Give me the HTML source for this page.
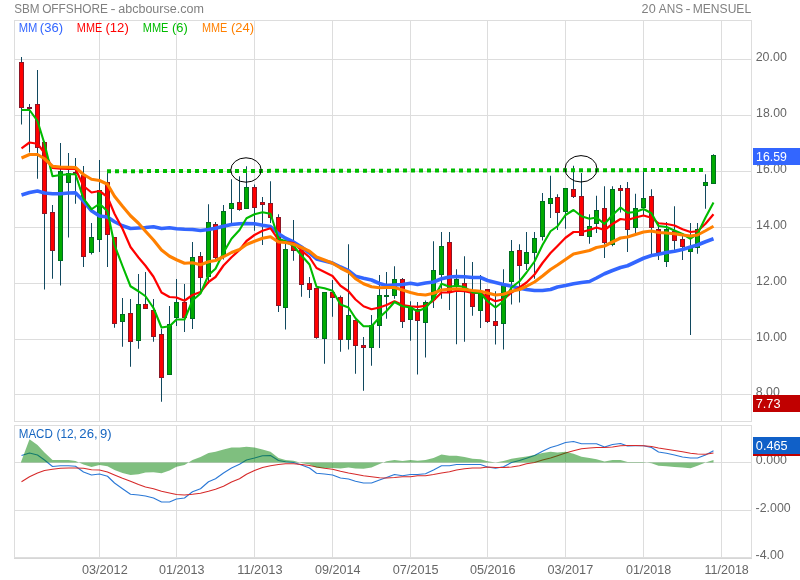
<!DOCTYPE html>
<html lang="fr"><head><meta charset="utf-8"><title>SBM OFFSHORE - abcbourse.com</title>
<style>html,body{margin:0;padding:0;background:#fff;}body{width:800px;height:580px;overflow:hidden;}svg{display:block;}text{font-family:"Liberation Sans", Arial, sans-serif;font-size:12px;}</style></head><body>
<svg width="800" height="580" viewBox="0 0 800 580">
<rect x="0" y="0" width="800" height="580" fill="#fff"/>
<g stroke="#dddddd" stroke-width="1" fill="none" shape-rendering="crispEdges">
<rect x="14.5" y="20.5" width="737" height="401"/>
<line x1="15" x2="751" y1="59.5" y2="59.5"/>
<line x1="15" x2="751" y1="115.5" y2="115.5"/>
<line x1="15" x2="751" y1="171.5" y2="171.5"/>
<line x1="15" x2="751" y1="227.5" y2="227.5"/>
<line x1="15" x2="751" y1="283.5" y2="283.5"/>
<line x1="15" x2="751" y1="339.5" y2="339.5"/>
<line x1="15" x2="751" y1="394.5" y2="394.5"/>
<line x1="99.5" x2="99.5" y1="21" y2="421"/>
<line x1="176.5" x2="176.5" y1="21" y2="421"/>
<line x1="254.5" x2="254.5" y1="21" y2="421"/>
<line x1="332.5" x2="332.5" y1="21" y2="421"/>
<line x1="410.5" x2="410.5" y1="21" y2="421"/>
<line x1="487.5" x2="487.5" y1="21" y2="421"/>
<line x1="565.5" x2="565.5" y1="21" y2="421"/>
<line x1="643.5" x2="643.5" y1="21" y2="421"/>
<line x1="721.5" x2="721.5" y1="21" y2="421"/>
<rect x="14.5" y="425.5" width="737" height="132"/>
<line x1="15" x2="751" y1="462.5" y2="462.5"/>
<line x1="15" x2="751" y1="510.5" y2="510.5"/>
<line x1="99.5" x2="99.5" y1="426" y2="557"/>
<line x1="176.5" x2="176.5" y1="426" y2="557"/>
<line x1="254.5" x2="254.5" y1="426" y2="557"/>
<line x1="332.5" x2="332.5" y1="426" y2="557"/>
<line x1="410.5" x2="410.5" y1="426" y2="557"/>
<line x1="487.5" x2="487.5" y1="426" y2="557"/>
<line x1="565.5" x2="565.5" y1="426" y2="557"/>
<line x1="643.5" x2="643.5" y1="426" y2="557"/>
<line x1="721.5" x2="721.5" y1="426" y2="557"/>
<line x1="14" x2="752" y1="558" y2="558" stroke="#d6d6d6"/>
</g>
<text y="61" fill="#666666"><tspan x="755.65" textLength="31.20" lengthAdjust="spacingAndGlyphs">20.00</tspan></text>
<text y="117" fill="#666666"><tspan x="756.10" textLength="30.74" lengthAdjust="spacingAndGlyphs">18.00</tspan></text>
<text y="173" fill="#666666"><tspan x="756.10" textLength="30.74" lengthAdjust="spacingAndGlyphs">16.00</tspan></text>
<text y="229" fill="#666666"><tspan x="756.10" textLength="30.74" lengthAdjust="spacingAndGlyphs">14.00</tspan></text>
<text y="285" fill="#666666"><tspan x="756.10" textLength="30.74" lengthAdjust="spacingAndGlyphs">12.00</tspan></text>
<text y="341" fill="#666666"><tspan x="756.10" textLength="30.74" lengthAdjust="spacingAndGlyphs">10.00</tspan></text>
<text y="396" fill="#666666"><tspan x="755.78" textLength="24.12" lengthAdjust="spacingAndGlyphs">8.00</tspan></text>
<text y="464" fill="#666666"><tspan x="755.88" textLength="31.07" lengthAdjust="spacingAndGlyphs">0.000</tspan></text>
<text y="512" fill="#666666"><tspan x="755.58" textLength="35.06" lengthAdjust="spacingAndGlyphs">-2.000</tspan></text>
<text y="559" fill="#666666"><tspan x="755.58" textLength="28.22" lengthAdjust="spacingAndGlyphs">-4.00</tspan></text>
<text y="574" fill="#666666"><tspan x="81.97" textLength="45.70" lengthAdjust="spacingAndGlyphs">03/2012</tspan></text>
<text y="574" fill="#666666"><tspan x="158.98" textLength="45.46" lengthAdjust="spacingAndGlyphs">01/2013</tspan></text>
<text y="574" fill="#666666"><tspan x="237.32" textLength="45.21" lengthAdjust="spacingAndGlyphs">11/2013</tspan></text>
<text y="574" fill="#666666"><tspan x="314.98" textLength="45.43" lengthAdjust="spacingAndGlyphs">09/2014</tspan></text>
<text y="574" fill="#666666"><tspan x="392.72" textLength="45.82" lengthAdjust="spacingAndGlyphs">07/2015</tspan></text>
<text y="574" fill="#666666"><tspan x="469.97" textLength="45.57" lengthAdjust="spacingAndGlyphs">05/2016</tspan></text>
<text y="574" fill="#666666"><tspan x="547.47" textLength="45.70" lengthAdjust="spacingAndGlyphs">03/2017</tspan></text>
<text y="574" fill="#666666"><tspan x="625.98" textLength="45.16" lengthAdjust="spacingAndGlyphs">01/2018</tspan></text>
<text y="574" fill="#666666"><tspan x="704.59" textLength="44.23" lengthAdjust="spacingAndGlyphs">11/2018</tspan></text>
<text y="13" fill="#808080"><tspan x="14.14" textLength="25.35" lengthAdjust="spacingAndGlyphs">SBM</tspan> <tspan x="42.13" textLength="65.81" lengthAdjust="spacingAndGlyphs">OFFSHORE</tspan> <tspan x="110.62" textLength="5.00" lengthAdjust="spacingAndGlyphs">-</tspan> <tspan x="118.23" textLength="85.70" lengthAdjust="spacingAndGlyphs">abcbourse.com</tspan></text>
<text y="13" fill="#808080"><tspan x="641.64" textLength="14.07" lengthAdjust="spacingAndGlyphs">20</tspan> <tspan x="658.80" textLength="24.25" lengthAdjust="spacingAndGlyphs">ANS</tspan> <tspan x="685.62" textLength="5.00" lengthAdjust="spacingAndGlyphs">-</tspan> <tspan x="692.74" textLength="58.40" lengthAdjust="spacingAndGlyphs">MENSUEL</tspan></text>
<g>
<line x1="21.5" x2="21.5" y1="57.0" y2="124.5" stroke="#10485f" stroke-width="1"/>
<rect x="19.5" y="62.5" width="4" height="45" fill="#ff0000" stroke="#8c1626" stroke-width="1"/>
<line x1="29.5" x2="29.5" y1="104.0" y2="152.5" stroke="#10485f" stroke-width="1"/>
<rect x="27.5" y="107.5" width="4" height="1" fill="#a00020" stroke="#7a1030" stroke-width="1"/>
<line x1="37.5" x2="37.5" y1="70.0" y2="178.75" stroke="#10485f" stroke-width="1"/>
<rect x="35.5" y="104.5" width="4" height="43" fill="#ff0000" stroke="#8c1626" stroke-width="1"/>
<line x1="44.5" x2="44.5" y1="141.0" y2="289.5" stroke="#10485f" stroke-width="1"/>
<rect x="42.5" y="142.5" width="4" height="71" fill="#ff0000" stroke="#8c1626" stroke-width="1"/>
<line x1="52.5" x2="52.5" y1="205.0" y2="278.75" stroke="#10485f" stroke-width="1"/>
<rect x="50.5" y="212.5" width="4" height="38" fill="#ff0000" stroke="#8c1626" stroke-width="1"/>
<line x1="60.5" x2="60.5" y1="143.0" y2="285.5" stroke="#10485f" stroke-width="1"/>
<rect x="58.5" y="171.5" width="4" height="89" fill="#00aa00" stroke="#006e22" stroke-width="1"/>
<line x1="68.5" x2="68.5" y1="153.0" y2="237.5" stroke="#10485f" stroke-width="1"/>
<rect x="66.5" y="173.5" width="4" height="9" fill="#00aa00" stroke="#006e22" stroke-width="1"/>
<line x1="75.5" x2="75.5" y1="158.0" y2="203.75" stroke="#10485f" stroke-width="1"/>
<rect x="73.5" y="172.5" width="4" height="1" fill="#a00020" stroke="#7a1030" stroke-width="1"/>
<line x1="83.5" x2="83.5" y1="166.0" y2="267.0" stroke="#10485f" stroke-width="1"/>
<rect x="81.5" y="175.5" width="4" height="81" fill="#ff0000" stroke="#8c1626" stroke-width="1"/>
<line x1="91.5" x2="91.5" y1="223.0" y2="254.5" stroke="#10485f" stroke-width="1"/>
<rect x="89.5" y="237.5" width="4" height="15" fill="#00aa00" stroke="#006e22" stroke-width="1"/>
<line x1="99.5" x2="99.5" y1="160.0" y2="252.0" stroke="#10485f" stroke-width="1"/>
<rect x="97.5" y="190.5" width="4" height="49" fill="#00aa00" stroke="#006e22" stroke-width="1"/>
<line x1="107.5" x2="107.5" y1="172.5" y2="267.0" stroke="#10485f" stroke-width="1"/>
<rect x="105.5" y="182.5" width="4" height="52" fill="#ff0000" stroke="#8c1626" stroke-width="1"/>
<line x1="114.5" x2="114.5" y1="237.0" y2="327.75" stroke="#10485f" stroke-width="1"/>
<rect x="112.5" y="237.5" width="4" height="86" fill="#ff0000" stroke="#8c1626" stroke-width="1"/>
<line x1="122.5" x2="122.5" y1="298.0" y2="346.75" stroke="#10485f" stroke-width="1"/>
<rect x="120.5" y="314.5" width="4" height="7" fill="#00aa00" stroke="#006e22" stroke-width="1"/>
<line x1="130.5" x2="130.5" y1="299.0" y2="366.75" stroke="#10485f" stroke-width="1"/>
<rect x="128.5" y="313.5" width="4" height="28" fill="#ff0000" stroke="#8c1626" stroke-width="1"/>
<line x1="138.5" x2="138.5" y1="274.0" y2="348.75" stroke="#10485f" stroke-width="1"/>
<rect x="136.5" y="304.5" width="4" height="36" fill="#00aa00" stroke="#006e22" stroke-width="1"/>
<line x1="145.5" x2="145.5" y1="272.0" y2="308.5" stroke="#10485f" stroke-width="1"/>
<rect x="143.5" y="304.5" width="4" height="4" fill="#ff0000" stroke="#8c1626" stroke-width="1"/>
<line x1="153.5" x2="153.5" y1="299.0" y2="341.75" stroke="#10485f" stroke-width="1"/>
<rect x="151.5" y="310.5" width="4" height="26" fill="#ff0000" stroke="#8c1626" stroke-width="1"/>
<line x1="161.5" x2="161.5" y1="328.75" y2="401.75" stroke="#10485f" stroke-width="1"/>
<rect x="159.5" y="334.5" width="4" height="43" fill="#ff0000" stroke="#8c1626" stroke-width="1"/>
<line x1="169.5" x2="169.5" y1="306.0" y2="374.5" stroke="#10485f" stroke-width="1"/>
<rect x="167.5" y="324.5" width="4" height="50" fill="#00aa00" stroke="#006e22" stroke-width="1"/>
<line x1="176.5" x2="176.5" y1="279.0" y2="326.0" stroke="#10485f" stroke-width="1"/>
<rect x="174.5" y="302.5" width="4" height="15" fill="#00aa00" stroke="#006e22" stroke-width="1"/>
<line x1="184.5" x2="184.5" y1="284.0" y2="332.0" stroke="#10485f" stroke-width="1"/>
<rect x="182.5" y="302.5" width="4" height="15" fill="#ff0000" stroke="#8c1626" stroke-width="1"/>
<line x1="192.5" x2="192.5" y1="242.0" y2="329.0" stroke="#10485f" stroke-width="1"/>
<rect x="190.5" y="257.5" width="4" height="61" fill="#00aa00" stroke="#006e22" stroke-width="1"/>
<line x1="200.5" x2="200.5" y1="252.0" y2="293.75" stroke="#10485f" stroke-width="1"/>
<rect x="198.5" y="256.5" width="4" height="21" fill="#ff0000" stroke="#8c1626" stroke-width="1"/>
<line x1="208.5" x2="208.5" y1="204.25" y2="283.75" stroke="#10485f" stroke-width="1"/>
<rect x="206.5" y="222.5" width="4" height="54" fill="#00aa00" stroke="#006e22" stroke-width="1"/>
<line x1="215.5" x2="215.5" y1="222.0" y2="259.5" stroke="#10485f" stroke-width="1"/>
<rect x="213.5" y="224.5" width="4" height="33" fill="#ff0000" stroke="#8c1626" stroke-width="1"/>
<line x1="223.5" x2="223.5" y1="205.0" y2="259.5" stroke="#10485f" stroke-width="1"/>
<rect x="221.5" y="211.5" width="4" height="44" fill="#00aa00" stroke="#006e22" stroke-width="1"/>
<line x1="231.5" x2="231.5" y1="179.25" y2="223.75" stroke="#10485f" stroke-width="1"/>
<rect x="229.5" y="203.5" width="4" height="5" fill="#00aa00" stroke="#006e22" stroke-width="1"/>
<line x1="239.5" x2="239.5" y1="176.25" y2="210.75" stroke="#10485f" stroke-width="1"/>
<rect x="237.5" y="202.5" width="4" height="7" fill="#ff0000" stroke="#8c1626" stroke-width="1"/>
<line x1="246.5" x2="246.5" y1="166.25" y2="209.0" stroke="#10485f" stroke-width="1"/>
<rect x="244.5" y="187.5" width="4" height="21" fill="#00aa00" stroke="#006e22" stroke-width="1"/>
<line x1="254.5" x2="254.5" y1="184.5" y2="230.75" stroke="#10485f" stroke-width="1"/>
<rect x="252.5" y="187.5" width="4" height="20" fill="#ff0000" stroke="#8c1626" stroke-width="1"/>
<line x1="262.5" x2="262.5" y1="197.0" y2="245.0" stroke="#10485f" stroke-width="1"/>
<rect x="260.5" y="202.5" width="4" height="2" fill="#ff0000" stroke="#8c1626" stroke-width="1"/>
<line x1="270.5" x2="270.5" y1="181.25" y2="223.0" stroke="#10485f" stroke-width="1"/>
<rect x="268.5" y="203.5" width="4" height="14" fill="#ff0000" stroke="#8c1626" stroke-width="1"/>
<line x1="278.5" x2="278.5" y1="214.25" y2="312.0" stroke="#10485f" stroke-width="1"/>
<rect x="276.5" y="217.5" width="4" height="88" fill="#ff0000" stroke="#8c1626" stroke-width="1"/>
<line x1="285.5" x2="285.5" y1="241.0" y2="329.5" stroke="#10485f" stroke-width="1"/>
<rect x="283.5" y="249.5" width="4" height="58" fill="#00aa00" stroke="#006e22" stroke-width="1"/>
<line x1="293.5" x2="293.5" y1="220.0" y2="260.75" stroke="#10485f" stroke-width="1"/>
<rect x="291.5" y="246.5" width="4" height="4" fill="#ff0000" stroke="#8c1626" stroke-width="1"/>
<line x1="301.5" x2="301.5" y1="250.0" y2="296.75" stroke="#10485f" stroke-width="1"/>
<rect x="299.5" y="250.5" width="4" height="34" fill="#ff0000" stroke="#8c1626" stroke-width="1"/>
<line x1="309.5" x2="309.5" y1="277.0" y2="298.0" stroke="#10485f" stroke-width="1"/>
<rect x="307.5" y="283.5" width="4" height="6" fill="#ff0000" stroke="#8c1626" stroke-width="1"/>
<line x1="316.5" x2="316.5" y1="288.0" y2="338.75" stroke="#10485f" stroke-width="1"/>
<rect x="314.5" y="288.5" width="4" height="49" fill="#ff0000" stroke="#8c1626" stroke-width="1"/>
<line x1="324.5" x2="324.5" y1="292.5" y2="363.75" stroke="#10485f" stroke-width="1"/>
<rect x="322.5" y="292.5" width="4" height="46" fill="#00aa00" stroke="#006e22" stroke-width="1"/>
<line x1="332.5" x2="332.5" y1="280.0" y2="316.75" stroke="#10485f" stroke-width="1"/>
<rect x="330.5" y="292.5" width="4" height="5" fill="#ff0000" stroke="#8c1626" stroke-width="1"/>
<line x1="340.5" x2="340.5" y1="295.5" y2="351.75" stroke="#10485f" stroke-width="1"/>
<rect x="338.5" y="297.5" width="4" height="42" fill="#ff0000" stroke="#8c1626" stroke-width="1"/>
<line x1="348.5" x2="348.5" y1="244.25" y2="349.5" stroke="#10485f" stroke-width="1"/>
<rect x="346.5" y="315.5" width="4" height="24" fill="#00aa00" stroke="#006e22" stroke-width="1"/>
<line x1="355.5" x2="355.5" y1="319.5" y2="373.75" stroke="#10485f" stroke-width="1"/>
<rect x="353.5" y="320.5" width="4" height="25" fill="#ff0000" stroke="#8c1626" stroke-width="1"/>
<line x1="363.5" x2="363.5" y1="337.0" y2="390.75" stroke="#10485f" stroke-width="1"/>
<rect x="361.5" y="345.5" width="4" height="2" fill="#ff0000" stroke="#8c1626" stroke-width="1"/>
<line x1="371.5" x2="371.5" y1="315.0" y2="365.75" stroke="#10485f" stroke-width="1"/>
<rect x="369.5" y="325.5" width="4" height="22" fill="#00aa00" stroke="#006e22" stroke-width="1"/>
<line x1="379.5" x2="379.5" y1="275.0" y2="348.0" stroke="#10485f" stroke-width="1"/>
<rect x="377.5" y="295.5" width="4" height="30" fill="#00aa00" stroke="#006e22" stroke-width="1"/>
<line x1="386.5" x2="386.5" y1="272.0" y2="318.75" stroke="#10485f" stroke-width="1"/>
<rect x="384.5" y="295.5" width="4" height="1" fill="#00aa00" stroke="#006e22" stroke-width="1"/>
<line x1="394.5" x2="394.5" y1="266.25" y2="298.75" stroke="#10485f" stroke-width="1"/>
<rect x="392.5" y="279.5" width="4" height="16" fill="#00aa00" stroke="#006e22" stroke-width="1"/>
<line x1="402.5" x2="402.5" y1="278.0" y2="328.0" stroke="#10485f" stroke-width="1"/>
<rect x="400.5" y="279.5" width="4" height="42" fill="#ff0000" stroke="#8c1626" stroke-width="1"/>
<line x1="410.5" x2="410.5" y1="301.25" y2="340.75" stroke="#10485f" stroke-width="1"/>
<rect x="408.5" y="307.5" width="4" height="12" fill="#00aa00" stroke="#006e22" stroke-width="1"/>
<line x1="417.5" x2="417.5" y1="302.0" y2="374.5" stroke="#10485f" stroke-width="1"/>
<rect x="415.5" y="309.5" width="4" height="11" fill="#ff0000" stroke="#8c1626" stroke-width="1"/>
<line x1="425.5" x2="425.5" y1="300.5" y2="357.5" stroke="#10485f" stroke-width="1"/>
<rect x="423.5" y="302.5" width="4" height="20" fill="#00aa00" stroke="#006e22" stroke-width="1"/>
<line x1="433.5" x2="433.5" y1="241.25" y2="308.0" stroke="#10485f" stroke-width="1"/>
<rect x="431.5" y="270.5" width="4" height="29" fill="#00aa00" stroke="#006e22" stroke-width="1"/>
<line x1="441.5" x2="441.5" y1="232.0" y2="298.75" stroke="#10485f" stroke-width="1"/>
<rect x="439.5" y="246.5" width="4" height="28" fill="#00aa00" stroke="#006e22" stroke-width="1"/>
<line x1="449.5" x2="449.5" y1="232.0" y2="310.0" stroke="#10485f" stroke-width="1"/>
<rect x="447.5" y="242.5" width="4" height="50" fill="#ff0000" stroke="#8c1626" stroke-width="1"/>
<line x1="456.5" x2="456.5" y1="269.25" y2="344.25" stroke="#10485f" stroke-width="1"/>
<rect x="454.5" y="279.5" width="4" height="7" fill="#00aa00" stroke="#006e22" stroke-width="1"/>
<line x1="464.5" x2="464.5" y1="256.25" y2="341.75" stroke="#10485f" stroke-width="1"/>
<rect x="462.5" y="283.5" width="4" height="5" fill="#ff0000" stroke="#8c1626" stroke-width="1"/>
<line x1="472.5" x2="472.5" y1="262.0" y2="315.75" stroke="#10485f" stroke-width="1"/>
<rect x="470.5" y="292.5" width="4" height="14" fill="#ff0000" stroke="#8c1626" stroke-width="1"/>
<line x1="480.5" x2="480.5" y1="275.0" y2="328.0" stroke="#10485f" stroke-width="1"/>
<rect x="478.5" y="293.5" width="4" height="17" fill="#00aa00" stroke="#006e22" stroke-width="1"/>
<line x1="487.5" x2="487.5" y1="289.0" y2="323.0" stroke="#10485f" stroke-width="1"/>
<rect x="485.5" y="289.5" width="4" height="32" fill="#ff0000" stroke="#8c1626" stroke-width="1"/>
<line x1="495.5" x2="495.5" y1="291.25" y2="344.5" stroke="#10485f" stroke-width="1"/>
<rect x="493.5" y="321.5" width="4" height="4" fill="#ff0000" stroke="#8c1626" stroke-width="1"/>
<line x1="503.5" x2="503.5" y1="269.25" y2="349.5" stroke="#10485f" stroke-width="1"/>
<rect x="501.5" y="285.5" width="4" height="38" fill="#00aa00" stroke="#006e22" stroke-width="1"/>
<line x1="511.5" x2="511.5" y1="240.0" y2="304.5" stroke="#10485f" stroke-width="1"/>
<rect x="509.5" y="251.5" width="4" height="30" fill="#00aa00" stroke="#006e22" stroke-width="1"/>
<line x1="519.5" x2="519.5" y1="244.25" y2="302.5" stroke="#10485f" stroke-width="1"/>
<rect x="517.5" y="250.5" width="4" height="15" fill="#ff0000" stroke="#8c1626" stroke-width="1"/>
<line x1="526.5" x2="526.5" y1="232.0" y2="270.0" stroke="#10485f" stroke-width="1"/>
<rect x="524.5" y="252.5" width="4" height="11" fill="#00aa00" stroke="#006e22" stroke-width="1"/>
<line x1="534.5" x2="534.5" y1="232.0" y2="278.75" stroke="#10485f" stroke-width="1"/>
<rect x="532.5" y="238.5" width="4" height="14" fill="#00aa00" stroke="#006e22" stroke-width="1"/>
<line x1="542.5" x2="542.5" y1="193.0" y2="240.5" stroke="#10485f" stroke-width="1"/>
<rect x="540.5" y="201.5" width="4" height="35" fill="#00aa00" stroke="#006e22" stroke-width="1"/>
<line x1="550.5" x2="550.5" y1="175.75" y2="218.0" stroke="#10485f" stroke-width="1"/>
<rect x="548.5" y="198.5" width="4" height="5" fill="#00aa00" stroke="#006e22" stroke-width="1"/>
<line x1="557.5" x2="557.5" y1="194.25" y2="230.0" stroke="#10485f" stroke-width="1"/>
<rect x="555.5" y="197.5" width="4" height="15" fill="#ff0000" stroke="#8c1626" stroke-width="1"/>
<line x1="565.5" x2="565.5" y1="188.0" y2="228.75" stroke="#10485f" stroke-width="1"/>
<rect x="563.5" y="188.5" width="4" height="23" fill="#00aa00" stroke="#006e22" stroke-width="1"/>
<line x1="573.5" x2="573.5" y1="165.75" y2="198.0" stroke="#10485f" stroke-width="1"/>
<rect x="571.5" y="189.5" width="4" height="7" fill="#ff0000" stroke="#8c1626" stroke-width="1"/>
<line x1="581.5" x2="581.5" y1="173.0" y2="236.0" stroke="#10485f" stroke-width="1"/>
<rect x="579.5" y="196.5" width="4" height="39" fill="#ff0000" stroke="#8c1626" stroke-width="1"/>
<line x1="589.5" x2="589.5" y1="214.25" y2="243.75" stroke="#10485f" stroke-width="1"/>
<rect x="587.5" y="226.5" width="4" height="10" fill="#00aa00" stroke="#006e22" stroke-width="1"/>
<line x1="596.5" x2="596.5" y1="195.75" y2="233.0" stroke="#10485f" stroke-width="1"/>
<rect x="594.5" y="210.5" width="4" height="13" fill="#00aa00" stroke="#006e22" stroke-width="1"/>
<line x1="604.5" x2="604.5" y1="186.25" y2="258.0" stroke="#10485f" stroke-width="1"/>
<rect x="602.5" y="208.5" width="4" height="34" fill="#ff0000" stroke="#8c1626" stroke-width="1"/>
<line x1="612.5" x2="612.5" y1="186.25" y2="246.25" stroke="#10485f" stroke-width="1"/>
<rect x="610.5" y="189.5" width="4" height="55" fill="#00aa00" stroke="#006e22" stroke-width="1"/>
<line x1="620.5" x2="620.5" y1="185.0" y2="212.5" stroke="#10485f" stroke-width="1"/>
<rect x="618.5" y="188.5" width="4" height="2" fill="#ff0000" stroke="#8c1626" stroke-width="1"/>
<line x1="627.5" x2="627.5" y1="182.0" y2="252.0" stroke="#10485f" stroke-width="1"/>
<rect x="625.5" y="188.5" width="4" height="41" fill="#ff0000" stroke="#8c1626" stroke-width="1"/>
<line x1="635.5" x2="635.5" y1="193.75" y2="233.75" stroke="#10485f" stroke-width="1"/>
<rect x="633.5" y="208.5" width="4" height="19" fill="#00aa00" stroke="#006e22" stroke-width="1"/>
<line x1="643.5" x2="643.5" y1="171.25" y2="215.0" stroke="#10485f" stroke-width="1"/>
<rect x="641.5" y="198.5" width="4" height="9" fill="#00aa00" stroke="#006e22" stroke-width="1"/>
<line x1="651.5" x2="651.5" y1="189.25" y2="254.5" stroke="#10485f" stroke-width="1"/>
<rect x="649.5" y="196.5" width="4" height="31" fill="#ff0000" stroke="#8c1626" stroke-width="1"/>
<line x1="658.5" x2="658.5" y1="222.5" y2="260.0" stroke="#10485f" stroke-width="1"/>
<rect x="656.5" y="229.5" width="4" height="23" fill="#ff0000" stroke="#8c1626" stroke-width="1"/>
<line x1="666.5" x2="666.5" y1="222.0" y2="267.0" stroke="#10485f" stroke-width="1"/>
<rect x="664.5" y="229.5" width="4" height="32" fill="#00aa00" stroke="#006e22" stroke-width="1"/>
<line x1="674.5" x2="674.5" y1="206.25" y2="250.0" stroke="#10485f" stroke-width="1"/>
<rect x="672.5" y="231.5" width="4" height="9" fill="#ff0000" stroke="#8c1626" stroke-width="1"/>
<line x1="682.5" x2="682.5" y1="235.0" y2="260.0" stroke="#10485f" stroke-width="1"/>
<rect x="680.5" y="239.5" width="4" height="7" fill="#ff0000" stroke="#8c1626" stroke-width="1"/>
<line x1="690.5" x2="690.5" y1="223.0" y2="335.0" stroke="#10485f" stroke-width="1"/>
<rect x="688.5" y="247.5" width="4" height="4" fill="#00aa00" stroke="#006e22" stroke-width="1"/>
<line x1="697.5" x2="697.5" y1="223.0" y2="253.75" stroke="#10485f" stroke-width="1"/>
<rect x="695.5" y="229.5" width="4" height="18" fill="#00aa00" stroke="#006e22" stroke-width="1"/>
<line x1="705.5" x2="705.5" y1="174.25" y2="208.75" stroke="#10485f" stroke-width="1"/>
<rect x="703.5" y="182.5" width="4" height="3" fill="#00aa00" stroke="#006e22" stroke-width="1"/>
<line x1="713.5" x2="713.5" y1="154.25" y2="184.0" stroke="#10485f" stroke-width="1"/>
<rect x="711.5" y="155.5" width="4" height="28" fill="#00aa00" stroke="#006e22" stroke-width="1"/>
</g>
<polyline points="21.5,195 29.5,192.5 37.5,191 44.5,193 52.5,193.75 60.5,193.75 68.5,193 75.5,192.75 83.5,201 91.5,210.75 99.5,216 107.5,217 114.5,221.75 122.5,225.75 130.5,228.5 138.5,228 145.5,227.5 153.5,226.75 161.5,228.5 169.5,227.75 176.5,228.75 184.5,229.25 192.5,229.5 200.5,230.5 208.5,229.5 215.5,228.25 223.5,226.25 231.5,224.5 239.5,223.75 246.5,223.5 254.5,223.75 262.5,225.25 270.5,226.5 278.5,233.75 285.5,238.25 293.5,242 301.5,247 309.5,253 316.5,259 324.5,261 332.5,263 340.5,267 348.5,270.75 355.5,276.25 363.5,278.25 371.5,280 379.5,283.5 386.5,285.5 394.5,285 402.5,284.5 410.5,283.25 417.5,284.5 425.5,283 433.5,282 441.5,278.75 449.5,277 456.5,276.5 464.5,276.75 472.5,277.5 480.5,277.5 487.5,280.5 495.5,282.5 503.5,284.5 511.5,286.25 519.5,288.25 526.5,289.5 534.5,290.5 542.5,290.5 550.5,289.5 557.5,287 565.5,285.5 573.5,283.75 581.5,282.5 589.5,281.5 596.5,278 604.5,273.75 612.5,270.5 620.5,267.5 627.5,265.75 635.5,262 643.5,258.25 651.5,255.5 658.5,254.25 666.5,252.5 674.5,251.25 682.5,249.5 690.5,247 697.5,245 705.5,241.75 713.5,238.75" fill="none" stroke="#3366ff" stroke-width="3.6" stroke-linejoin="round" stroke-linecap="butt" />
<polyline points="21.5,148.3 29.5,142.5 37.5,143.75 44.5,153 52.5,168 60.5,168.75 68.5,169 75.5,169 83.5,186 91.5,192.5 99.5,191 107.5,197 114.5,213.75 122.5,228.75 130.5,247 138.5,257.5 145.5,265.75 153.5,276.75 161.5,292.5 169.5,297 176.5,297.5 184.5,300.75 192.5,295 200.5,292 208.5,282 215.5,277 223.5,265.5 231.5,257.25 239.5,250 246.5,241 254.5,235 262.5,230.75 270.5,228.25 278.5,240 285.5,241.75 293.5,243 301.5,250.5 309.5,257.25 316.5,268 324.5,272 332.5,276 340.5,285.75 348.5,291.25 355.5,299.5 363.5,306.25 371.5,309.25 379.5,307.5 386.5,305 394.5,301.25 402.5,305 410.5,306.25 417.5,306.9 425.5,305.8 433.5,300.5 441.5,292.5 449.5,292.5 456.5,290.75 464.5,291.25 472.5,293 480.5,293 487.5,297.5 495.5,301.25 503.5,299.25 511.5,292.5 519.5,287.5 526.5,282.5 534.5,274.5 542.5,263 550.5,253 557.5,246 565.5,237.75 573.5,232 581.5,232 589.5,230 596.5,227.5 604.5,230 612.5,224 620.5,219 627.5,220 635.5,217.5 643.5,215.5 651.5,217.75 658.5,223.25 666.5,224 674.5,225.5 682.5,229.25 690.5,232 697.5,231.25 705.5,223.75 713.5,214.25" fill="none" stroke="#ff0000" stroke-width="2.2" stroke-linejoin="round" stroke-linecap="butt" />
<polyline points="21.5,110 29.5,110 37.5,121 44.5,143.75 52.5,176.25 60.5,175 68.5,174.25 75.5,174.25 83.5,198.75 91.5,209.25 99.5,203.75 107.5,211.25 114.5,245 122.5,266 130.5,286.25 138.5,291.25 145.5,296.25 153.5,308 161.5,327.5 169.5,326.25 176.5,319.5 184.5,319.5 192.5,300.5 200.5,293.5 208.5,275 215.5,268.75 223.5,252.5 231.5,238.75 239.5,230 246.5,218.25 254.5,214.25 262.5,212.25 270.5,213.75 278.5,238.75 285.5,241.25 293.5,246 301.5,255.5 309.5,264.5 316.5,286.75 324.5,288.25 332.5,290.75 340.5,304.5 348.5,307.5 355.5,318.25 363.5,326.25 371.5,326.25 379.5,317.5 386.5,311 394.5,302 402.5,306.25 410.5,307.5 417.5,311.25 425.5,308 433.5,298.75 441.5,283.75 449.5,286.75 456.5,285.75 464.5,287 472.5,292.5 480.5,293.25 487.5,301.25 495.5,307.5 503.5,301.25 511.5,287.5 519.5,281.25 526.5,272.5 534.5,261.5 542.5,245 550.5,231.25 557.5,226.25 565.5,215 573.5,210 581.5,216.25 589.5,218.75 596.5,217.5 604.5,224 612.5,215 620.5,207.5 627.5,212.75 635.5,212 643.5,209 651.5,213.25 658.5,226 666.5,227 674.5,230.5 682.5,234 690.5,238.75 697.5,234 705.5,217.5 713.5,202.5" fill="none" stroke="#00bb00" stroke-width="2.1" stroke-linejoin="round" stroke-linecap="butt" />
<polyline points="21.5,158 29.5,154.5 37.5,154.5 44.5,158.75 52.5,166.25 60.5,167 68.5,167.25 75.5,167.5 83.5,174.5 91.5,179.25 99.5,180.5 107.5,184.25 114.5,196.25 122.5,206.25 130.5,215.75 138.5,223.25 145.5,231.25 153.5,240 161.5,250 169.5,256.25 176.5,259.75 184.5,263.25 192.5,262.75 200.5,264.75 208.5,261.75 215.5,260.5 223.5,256.75 231.5,252.5 239.5,249.5 246.5,244.5 254.5,241.25 262.5,238.25 270.5,236.75 278.5,242 285.5,242.5 293.5,244.25 301.5,247.5 309.5,251.25 316.5,257 324.5,260 332.5,263.25 340.5,268 348.5,272 355.5,278.75 363.5,283.75 371.5,286.75 379.5,287.75 386.5,287.5 394.5,287.5 402.5,290 410.5,292.5 417.5,294.25 425.5,295 433.5,293.25 441.5,290 449.5,289.25 456.5,288.75 464.5,289.5 472.5,290.5 480.5,291.25 487.5,293 495.5,295 503.5,294.25 511.5,291.25 519.5,289.5 526.5,286.25 534.5,282 542.5,276 550.5,269.5 557.5,265 565.5,259.5 573.5,254 581.5,252.25 589.5,250.5 596.5,247.5 604.5,246 612.5,242 620.5,238 627.5,237 635.5,234.5 643.5,232 651.5,231 658.5,232.5 666.5,233 674.5,233.75 682.5,235 690.5,236 697.5,235 705.5,230.75 713.5,226.25" fill="none" stroke="#ff8000" stroke-width="3.1" stroke-linejoin="round" stroke-linecap="butt" />
<line x1="107" x2="703" y1="171.2" y2="170" stroke="#00bb00" stroke-width="4" stroke-dasharray="4 4"/>
<ellipse cx="246" cy="170" rx="15.2" ry="12.2" fill="none" stroke="#000" stroke-width="1"/>
<ellipse cx="581" cy="168.8" rx="16" ry="13.2" fill="none" stroke="#000" stroke-width="1"/>
<text y="32" fill="#3366ff"><tspan x="18.77" textLength="18.67" lengthAdjust="spacingAndGlyphs">MM</tspan> <tspan x="39.88" textLength="23.20" lengthAdjust="spacingAndGlyphs">(36)</tspan></text>
<text y="32" fill="#ff0000"><tspan x="76.84" textLength="25.36" lengthAdjust="spacingAndGlyphs">MME</tspan> <tspan x="105.43" textLength="23.36" lengthAdjust="spacingAndGlyphs">(12)</tspan></text>
<text y="32" fill="#00bb00"><tspan x="142.78" textLength="25.68" lengthAdjust="spacingAndGlyphs">MME</tspan> <tspan x="171.99" textLength="15.76" lengthAdjust="spacingAndGlyphs">(6)</tspan></text>
<text y="32" fill="#ff8000"><tspan x="201.89" textLength="25.36" lengthAdjust="spacingAndGlyphs">MME</tspan> <tspan x="230.94" textLength="23.04" lengthAdjust="spacingAndGlyphs">(24)</tspan></text>
<rect x="753" y="148" width="47" height="17" fill="#3366ff"/>
<text y="161" fill="#fff"><tspan x="756.10" textLength="30.74" lengthAdjust="spacingAndGlyphs">16.59</tspan></text>
<rect x="753" y="395" width="47" height="17" fill="#c00000"/>
<text y="408" fill="#fff"><tspan x="755.74" textLength="24.78" lengthAdjust="spacingAndGlyphs">7.73</tspan></text>
<polyline points="21.5,455.5 29.5,453 37.5,455 44.5,460 52.5,466.5 60.5,465.75 68.5,465.75 75.5,466.25 83.5,472 91.5,475 99.5,474 107.5,476.25 114.5,483 122.5,488.75 130.5,494.25 138.5,495 145.5,496 153.5,498 161.5,502 169.5,502 176.5,499 184.5,498 192.5,491.75 200.5,488.75 208.5,481.75 215.5,478.75 223.5,473 231.5,468 239.5,464.25 246.5,460 254.5,458 262.5,455.75 270.5,455.5 278.5,460.5 285.5,461.75 293.5,462.5 301.5,465 309.5,468 316.5,473.25 324.5,474 332.5,475 340.5,478 348.5,479 355.5,481.25 363.5,483 371.5,483 379.5,480 386.5,477.5 394.5,474.5 402.5,475.75 410.5,474.5 417.5,474.5 425.5,473.75 433.5,470 441.5,465.75 449.5,465.75 456.5,464.5 464.5,464.5 472.5,464.5 480.5,464.5 487.5,467 495.5,468.25 503.5,466.75 511.5,462.5 519.5,460.5 526.5,458.25 534.5,455.5 542.5,451.25 550.5,447.5 557.5,445.5 565.5,442.5 573.5,441.5 581.5,443.75 589.5,443.75 596.5,443.75 604.5,447 612.5,444.5 620.5,443.5 627.5,446 635.5,445.75 643.5,445.75 651.5,447.5 658.5,452 666.5,453.25 674.5,455 682.5,457 690.5,458 697.5,458 705.5,455 713.5,450.75" fill="none" stroke="#2a78d6" stroke-width="1.1" stroke-linejoin="round" stroke-linecap="butt" />
<polyline points="21.5,481.75 29.5,476.75 37.5,473 44.5,470.5 52.5,469.25 60.5,468.25 68.5,468 75.5,468 83.5,468.25 91.5,469.75 99.5,470 107.5,472 114.5,475 122.5,478.25 130.5,481.25 138.5,484.5 145.5,487 153.5,488.75 161.5,491.25 169.5,493 176.5,494.5 184.5,495 192.5,494.25 200.5,493.25 208.5,491.25 215.5,489.25 223.5,486.25 231.5,482 239.5,478.75 246.5,474.25 254.5,470.5 262.5,467.5 270.5,465.75 278.5,464.5 285.5,463.75 293.5,463.75 301.5,464.5 309.5,465.5 316.5,467 324.5,468.25 332.5,469.25 340.5,471.25 348.5,473 355.5,474.25 363.5,475.75 371.5,476.75 379.5,477.75 386.5,478 394.5,477.5 402.5,476.75 410.5,476.75 417.5,475.75 425.5,475.75 433.5,474.5 441.5,473 449.5,471.75 456.5,470 464.5,468.75 472.5,468 480.5,468 487.5,467 495.5,467.5 503.5,467.5 511.5,467 519.5,465.75 526.5,463.75 534.5,462.5 542.5,460 550.5,458 557.5,455.75 565.5,453 573.5,450.75 581.5,448.75 589.5,448 596.5,447.5 604.5,447.5 612.5,447 620.5,445.75 627.5,445.5 635.5,445.5 643.5,445.75 651.5,446.5 658.5,448 666.5,449.25 674.5,450.5 682.5,451.75 690.5,453.25 697.5,454 705.5,454.25 713.5,453" fill="none" stroke="#d62a2a" stroke-width="1.1" stroke-linejoin="round" stroke-linecap="butt" />
<polygon points="21.0,462.5 21.0,462 29.5,439.25 37.5,445 44.5,452.5 52.5,460 60.5,460 68.5,460 75.5,461 83.5,464.5 91.5,467 99.5,465 107.5,466.25 114.5,470 122.5,473 130.5,475 138.5,474.25 145.5,472.5 153.5,472.25 161.5,473.25 169.5,470.5 176.5,466.75 184.5,465 192.5,460 200.5,457 208.5,453 215.5,451.75 223.5,449.5 231.5,447.5 239.5,447.5 246.5,446.75 254.5,447.5 262.5,449.5 270.5,451.75 278.5,458 285.5,460 293.5,460.75 301.5,463 309.5,464.5 316.5,467.5 324.5,468 332.5,468 340.5,468.5 348.5,467.5 355.5,468.5 363.5,468.75 371.5,467.5 379.5,464 386.5,461.25 394.5,460 402.5,461 410.5,460 417.5,460.75 425.5,460 433.5,458 441.5,454.5 449.5,455.75 456.5,455.75 464.5,457 472.5,458.75 480.5,459.25 487.5,461.25 495.5,462.5 503.5,461 511.5,458.75 519.5,457.5 526.5,456.5 534.5,455 542.5,453 550.5,451.75 557.5,452.5 565.5,451.75 573.5,453.75 581.5,456.75 589.5,458 596.5,459.25 604.5,461.5 612.5,460 620.5,460 627.5,462 635.5,462 643.5,462 651.5,463.25 658.5,465.75 666.5,466.25 674.5,467 682.5,467.5 690.5,468.25 697.5,465.75 705.5,462.5 713.5,460 713.5,462.5" fill="#008000" fill-opacity="0.5" stroke="none"/>
<text y="438" fill="#1565c0"><tspan x="18.74" textLength="34.09" lengthAdjust="spacingAndGlyphs">MACD</tspan> <tspan x="56.46" textLength="20.39" lengthAdjust="spacingAndGlyphs">(12,</tspan> <tspan x="79.31" textLength="18.36" lengthAdjust="spacingAndGlyphs">26,</tspan> <tspan x="100.02" textLength="11.59" lengthAdjust="spacingAndGlyphs">9)</tspan></text>
<rect x="753" y="439" width="47" height="17" fill="#c00000"/>
<rect x="753" y="437" width="47" height="17" fill="#1060c8"/>
<text y="450" fill="#fff"><tspan x="755.87" textLength="31.69" lengthAdjust="spacingAndGlyphs">0.465</tspan></text>
</svg></body></html>
